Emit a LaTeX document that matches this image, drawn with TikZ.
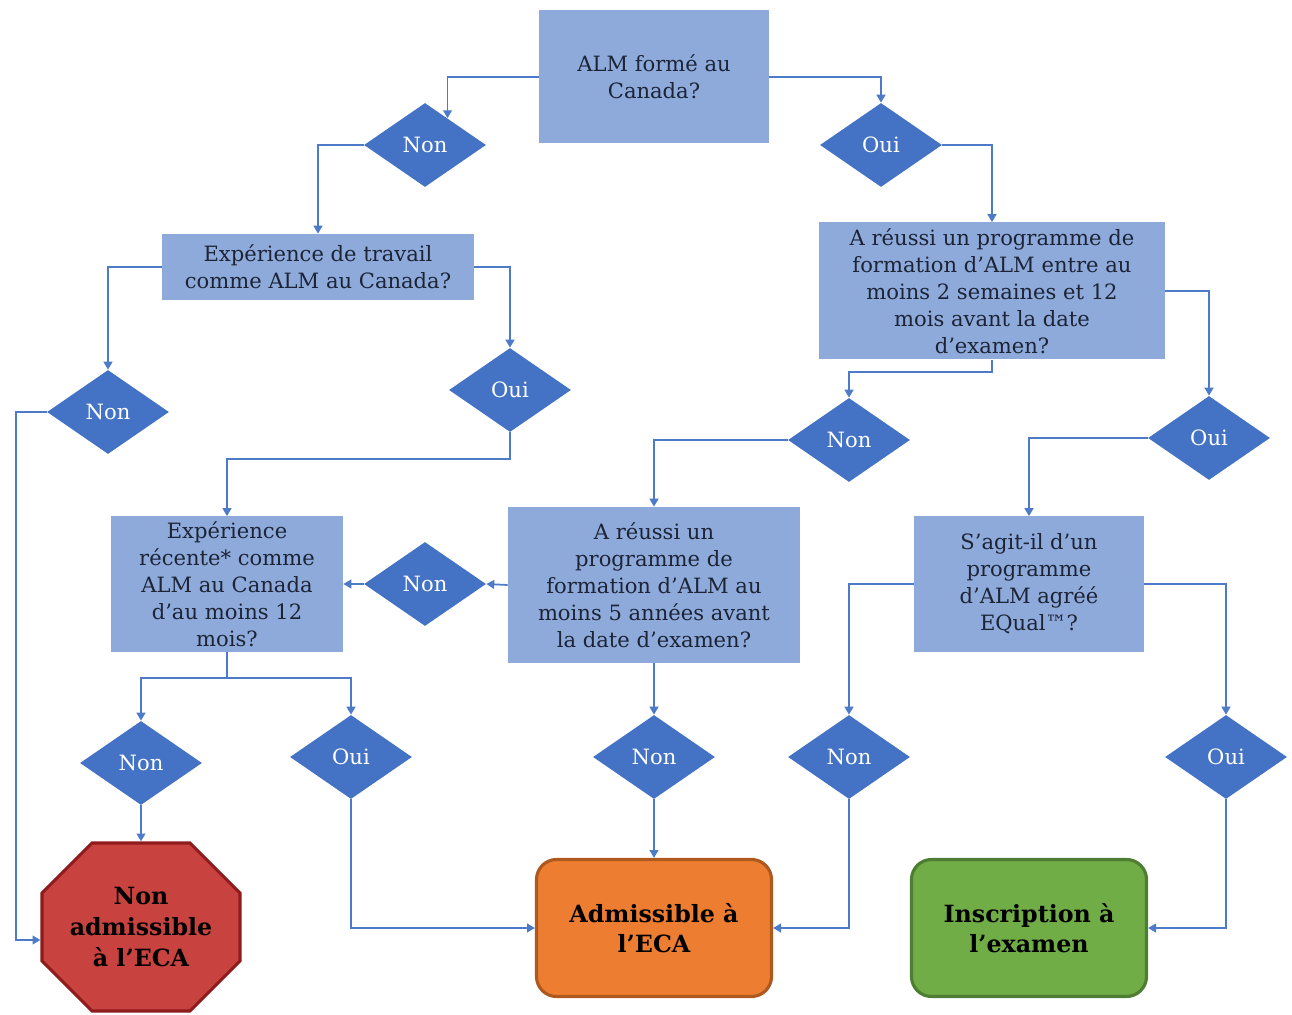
\documentclass[tikz,border=0pt]{standalone}
\usepackage{fontspec}
\setmainfont{DejaVu Serif}
\usetikzlibrary{shapes.geometric,arrows.meta,calc}
\definecolor{boxblue}{HTML}{8EAADB}
\definecolor{boxtext}{HTML}{1C2436}
\definecolor{diablue}{HTML}{4472C4}
\definecolor{lineblue}{HTML}{4E7BC8}
\definecolor{stopred}{HTML}{C8423F}
\definecolor{stopdark}{HTML}{8E1C1C}
\definecolor{okorange}{HTML}{ED7D31}
\definecolor{okdark}{HTML}{B0591F}
\definecolor{regreen}{HTML}{70AD47}
\definecolor{regdark}{HTML}{4F7D33}
\begin{document}
\begin{tikzpicture}[x=0.2mm, y=-0.2mm,
		question/.style={rectangle, fill=boxblue, text=boxtext, align=center, inner sep=0pt, font=\fontsize{12}{15.4}\selectfont},
		answer/.style={diamond, fill=diablue, text=white, inner sep=0pt, minimum width=24.4mm, minimum height=16.8mm, font=\fontsize{12}{15}\selectfont},
		result/.style={rectangle, rounded corners=4mm, line width=1.8pt, align=center, minimum width=47mm, minimum height=27.4mm, font=\fontsize{13.5}{17.4}\selectfont\bfseries},
		arr/.style={draw=lineblue, line width=1pt, -{Triangle[width=5pt,length=4.5pt]}}]
	\useasboundingbox (0,0) rectangle (1292,1015);
	\node[question, minimum width=46mm, minimum height=26.6mm] (q1) at (654,77) {ALM formé au\\Canada?};
	\node[question, minimum width=62.2mm, minimum height=13.2mm] (q2) at (318,267) {Expérience de travail\\comme ALM au Canada?};
	\node[question, minimum width=69.2mm, minimum height=27.4mm] (q3) at (992,291) {A réussi un programme de\\formation d'ALM entre au\\moins 2 semaines et 12\\mois avant la date\\d'examen?};
	\node[question, minimum width=46.4mm, minimum height=27mm] (q4) at (227,584) {Expérience\\récente* comme\\ALM au Canada\\d'au moins 12\\mois?};
	\node[question, minimum width=58.4mm, minimum height=31.2mm] (q5) at (654,585) {A réussi un\\programme de\\formation d'ALM au\\moins 5 années avant\\la date d'examen?};
	\node[question, minimum width=46mm, minimum height=27mm] (q6) at (1029,584) {S'agit-il d'un\\programme\\d'ALM agréé\\EQual™?};
	\node[answer] (d1) at (425,145) {Non};
	\node[answer] (d2) at (881,145) {Oui};
	\node[answer] (d3) at (108,412) {Non};
	\node[answer] (d4) at (510,390) {Oui};
	\node[answer] (d5) at (849,440) {Non};
	\node[answer] (d6) at (1209,438) {Oui};
	\node[answer] (d7) at (425,584) {Non};
	\node[answer] (d8) at (141,763) {Non};
	\node[answer] (d9) at (351,757) {Oui};
	\node[answer] (d10) at (654,757) {Non};
	\node[answer] (d11) at (849,757) {Non};
	\node[answer] (d12) at (1226,757) {Oui};
	\coordinate (c1) at (141,927);
	\draw[fill=stopred, draw=stopdark, line width=1.8pt] ($(c1)+(-49,-84)$) -- ($(c1)+(49,-84)$) -- ($(c1)+(99,-34)$) -- ($(c1)+(99,34)$) -- ($(c1)+(49,84)$) -- ($(c1)+(-49,84)$) -- ($(c1)+(-99,34)$) -- ($(c1)+(-99,-34)$) -- cycle;
	\node[result, minimum width=39.6mm, minimum height=33.6mm, rounded corners=0pt] (t1) at (c1) {Non\\admissible\\à l'ECA};
	\node[result, fill=okorange, draw=okdark] (t2) at (654,928) {Admissible à\\l'ECA};
	\node[result, fill=regreen, draw=regdark] (t3) at (1029,928) {Inscription à\\l'examen};
	\draw[arr] (q1.west) -| (d1.50);
	\draw[arr] (q1.east) -| (d2.north);
	\draw[arr] (d1.west) -| (q2.north);
	\draw[arr] (d2.east) -| (q3.north);
	\draw[arr] (q2.west) -| (d3.north);
	\draw[arr] (q2.east) -| (d4.north);
	\draw[arr] (d3.west) -- ++(-31,0) |- ([yshift=-2.6mm]t1.west);
	\draw[arr] (d4.south) -- ++(0,27) -| (q4.north);
	\draw[arr] (q3.south) -- ++(0,12) -| (d5.north);
	\draw[arr] (q3.east) -| (d6.north);
	\draw[arr] (d5.west) -| (q5.north);
	\draw[arr] (d6.west) -| (q6.north);
	\draw[arr] (q5.west) -- (d7.east);
	\draw[arr] (d7.west) -- (q4.east);
	\draw[lineblue, line width=1pt] (q4.south) -- ++(0,26) coordinate (s4);
	\draw[arr] (s4) -| (d8.north);
	\draw[arr] (s4) -| (d9.north);
	\draw[arr] (q5.south) -- (d10.north);
	\draw[arr] (q6.west) -| (d11.north);
	\draw[arr] (q6.east) -| (d12.north);
	\draw[arr] (d8.south) -- (t1.north);
	\draw[arr] (d9.south) |- (t2.west);
	\draw[arr] (d10.south) -- (t2.north);
	\draw[arr] (d11.south) |- (t2.east);
	\draw[arr] (d12.south) |- (t3.east);
\end{tikzpicture}
\end{document}
